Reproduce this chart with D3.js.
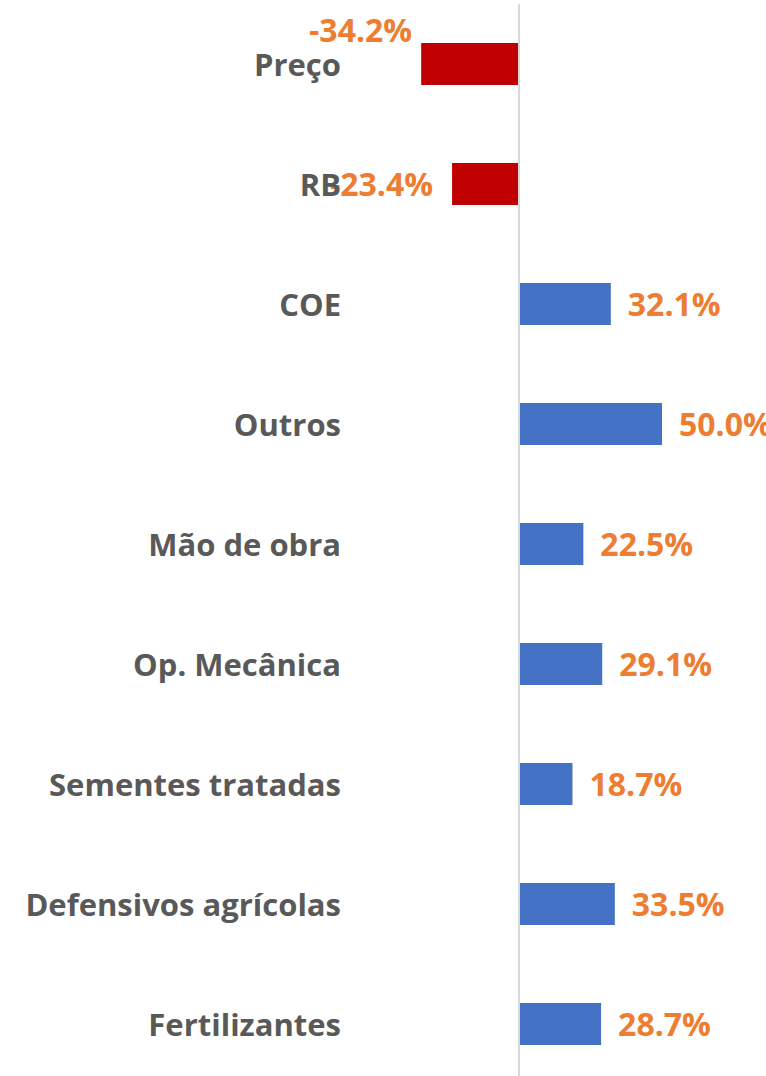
<!DOCTYPE html>
<html>
<head>
<meta charset="utf-8">
<script src="https://cdn.jsdelivr.net/npm/d3@7"></script>
<style>
  body { margin: 0; background: #fff; }
  text { font-family: "Open Sans", "DejaVu Sans", sans-serif; font-weight: bold; }
</style>
</head>
<body>
<div id="chart"></div>
<script>
// categories and variation values (%)
var categories = ["Preço", "RB", "COE", "Outros", "Mão de obra", "Op. Mecânica",
                  "Sementes tratadas", "Defensivos agrícolas", "Fertilizantes"];
var values = [-34.2, -23.4, 32.1, 50.0, 22.5, 29.1, 18.7, 33.5, 28.7];

var width = 766, height = 1076;

var svg = d3.select("#chart")
  .append("svg")
  .attr("width", width)
  .attr("height", height);

var data = categories.map(function(c, i) { return {name: c, value: values[i]}; });

// x: 2.86 px per percentage point, zero at x = 519
var x = d3.scaleLinear()
  .domain([-50, 50])
  .range([376, 662]);

var y = d3.scaleBand()
  .domain(categories)
  .range([4, 1084])
  .paddingInner(0.65)
  .paddingOuter(0.325);

// bars
svg.selectAll(".bar")
  .data(data)
  .enter()
  .append("rect")
  .attr("class", "bar")
  .attr("x", function(d) { return x(Math.min(0, d.value)); })
  .attr("y", function(d) { return y(d.name); })
  .attr("width", function(d) { return Math.abs(x(d.value) - x(0)); })
  .attr("height", y.bandwidth())
  .style("fill", function(d) { return d.value < 0 ? "#C00000" : "#4472C4"; });

// zero axis line
svg.append("line")
  .attr("x1", x(0)).attr("x2", x(0))
  .attr("y1", 4).attr("y2", height)
  .style("stroke", "#d9d9d9")
  .style("stroke-width", 2);

var fmt = function(v) { return v.toFixed(1) + "%"; };

// value labels (first negative label sits above its bar, like the original)
svg.selectAll(".val")
  .data(data)
  .enter()
  .append("text")
  .attr("class", "val")
  .attr("x", function(d, i) {
    if (d.value >= 0) return x(d.value) + 17;
    return i === 0 ? x(d.value) - 9 : x(d.value) - 19;
  })
  .attr("y", function(d, i) {
    var c = y(d.name) + y.bandwidth() / 2;
    return (d.value < 0 && i === 0) ? c - 33 : c + 1;
  })
  .attr("dy", "0.35em")
  .attr("text-anchor", function(d) { return d.value < 0 ? "end" : "start"; })
  .style("font-size", "32px")
  .style("fill", "#ED7D31")
  .text(function(d) { return fmt(d.value); });

// category labels (drawn last so "RB" covers the minus sign)
svg.selectAll(".cat")
  .data(data)
  .enter()
  .append("text")
  .attr("class", "cat")
  .attr("x", 341)
  .attr("y", function(d) { return y(d.name) + y.bandwidth() / 2 + 1; })
  .attr("dy", "0.35em")
  .attr("text-anchor", "end")
  .style("font-size", "31px")
  .style("fill", "#595959")
  .text(function(d) { return d.name; });
</script>
</body>
</html>
